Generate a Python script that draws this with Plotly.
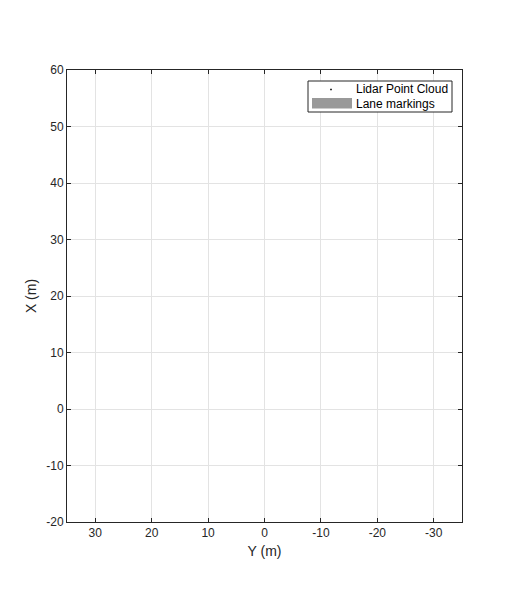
import plotly.graph_objects as go

# Data (the reference chart shows no visible data; legend entries only)
lidar_y = []
lidar_x = []
lane_y = []
lane_x = []
legend_names = ["Lidar Point Cloud", "Lane markings"]

x_tick_vals = [30, 20, 10, 0, -10, -20, -30]
x_tick_text = ["30", "20", "10", "0", "-10", "-20", "-30"]
y_tick_vals = [-20, -10, 0, 10, 20, 30, 40, 50, 60]
y_tick_text = ["-20", "-10", "0", "10", "20", "30", "40", "50", "60"]

FONT = "Liberation Sans, Arial, sans-serif"
LANE_COLOR = "#999999"

fig = go.Figure()
fig.add_trace(go.Scatter(
    x=lidar_y, y=lidar_x, mode="markers", name=legend_names[0],
    marker=dict(color="black", size=2), showlegend=False))
fig.add_trace(go.Scatter(
    x=lane_y, y=lane_x, mode="lines", name=legend_names[1],
    line=dict(color=LANE_COLOR, width=10), showlegend=False))

axis_common = dict(
    showline=True, linecolor="#262626", linewidth=1, mirror="allticks",
    ticks="inside", ticklen=4, tickcolor="#262626",
    showgrid=True, gridcolor="#e3e3e3", gridwidth=1, zeroline=False,
    tickfont=dict(family=FONT, size=12, color="#262626"),
)

# Page is offset by the 8px body margin; plot area target: x 67..462, y 70..522
PL, PR, PT, PB = 67, 462, 70, 522
def px(xp):
    return (xp - PL) / (PR - PL)
def py(yp):
    return (PB - yp) / (PB - PT)

shapes = [
    # legend box
    dict(type="rect", xref="paper", yref="paper",
         x0=px(308), x1=px(452), y0=py(112), y1=py(81),
         line=dict(color="#262626", width=1), fillcolor="white", layer="above"),
    # lidar marker
    dict(type="rect", xref="paper", yref="paper",
         x0=px(330.2), x1=px(331.8), y0=py(90.3), y1=py(88.7),
         line=dict(width=0), fillcolor="black", layer="above"),
    # lane marker swatch
    dict(type="rect", xref="paper", yref="paper",
         x0=px(312), x1=px(352), y0=py(108.5), y1=py(98),
         line=dict(width=0), fillcolor=LANE_COLOR, layer="above"),
]
annotations = [
    dict(text=legend_names[0], xref="paper", yref="paper", x=px(354), y=py(89),
         xanchor="left", yanchor="middle", showarrow=False,
         font=dict(family=FONT, size=12, color="black")),
    dict(text=legend_names[1], xref="paper", yref="paper", x=px(354), y=py(104),
         xanchor="left", yanchor="middle", showarrow=False,
         font=dict(family=FONT, size=12, color="black")),
]

fig.update_layout(
    width=512, height=614,
    margin=dict(l=PL - 8, r=512 + 8 - PR, t=PT - 8, b=614 + 8 - PB),
    paper_bgcolor="white", plot_bgcolor="white",
    font=dict(family=FONT, color="#262626"),
    xaxis=dict(range=[35, -35], tickvals=x_tick_vals, ticktext=x_tick_text,
               title=dict(text="Y (m)", font=dict(size=14), standoff=6), **axis_common),
    yaxis=dict(range=[-20, 60], tickvals=y_tick_vals, ticktext=y_tick_text,
               title=dict(text="X (m)", font=dict(size=14), standoff=6), **axis_common),
    shapes=shapes, annotations=annotations,
    showlegend=False,
)

fig.write_html("out.html")
